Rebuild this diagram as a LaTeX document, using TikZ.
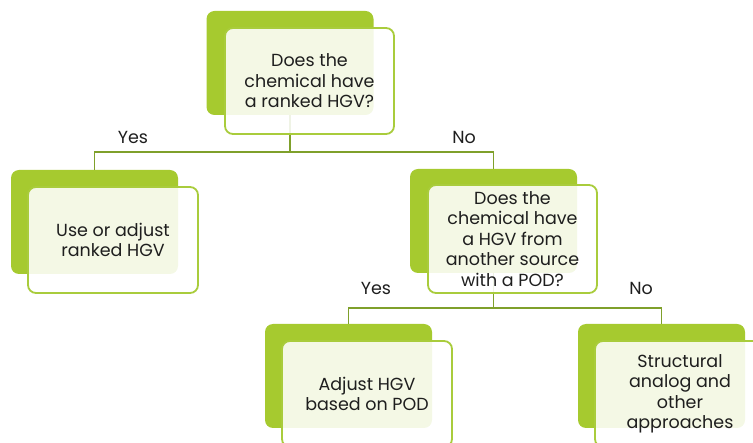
\documentclass[tikz,border=0pt]{standalone}
\usepackage{fontspec}
\setmainfont{Poppins}
\definecolor{backgreen}{HTML}{A6CA2F}
\definecolor{edgegreen}{HTML}{A9CC3C}
\definecolor{linegreen}{HTML}{7FA02B}
\definecolor{txt}{HTML}{1E1E1E}
\begin{document}
\begin{tikzpicture}[x=1pt,y=-1pt,
  backbox/.style={fill=backgreen, rounded corners=8pt, minimum width=167pt, minimum height=104pt, inner sep=0pt},
  frontbox/.style={draw=edgegreen, line width=1.8pt, fill=white, fill opacity=0.88, text opacity=1,
    rounded corners=8pt, minimum width=169pt, minimum height=106pt, inner sep=0pt, align=center,
    text=txt, font=\fontsize{17.5}{20.5}\selectfont},
  conn/.style={draw=linegreen, line width=1.8pt},
  lbl/.style={text=txt, font=\fontsize{17.5}{20.5}\selectfont, inner sep=0pt}]
\clip (0,0) rectangle (753,443);
% back boxes
\node[backbox] (b1) at (290,63) {};
\node[backbox] (b2) at (94.5,222) {};
\node[backbox] (b3) at (493.5,221) {};
\node[backbox] (b4) at (348.5,376) {};
\node[backbox] (b5) at (661.5,376) {};
% connectors
\coordinate (j1) at (290,152);
\coordinate (j2) at (493.5,308);
\draw[conn] (b1.south) -- (j1) -| (b2.north);
\draw[conn] (j1) -| (b3.north);
\draw[conn] (b3.south) -- (j2) -| (b4.north);
\draw[conn] (j2) -| (b5.north);
% front boxes
\node[frontbox] (f1) at (309.5,81) {Does the\\chemical have\\a ranked HGV?};
\node[frontbox, minimum width=170pt] (f2) at (113,240) {Use or adjust\\ranked HGV};
\node[frontbox, minimum height=108pt] (f3) at (512.5,239) {Does the\\chemical have\\a HGV from\\another source\\with a POD?};
\node[frontbox, minimum width=170pt] (f4) at (367,394) {Adjust HGV\\based on POD};
\node[frontbox, minimum width=170pt] (f5) at (680,394) {Structural\\analog and\\other\\approaches};
% labels
\node[lbl] (y1) at (133,137) {Yes};
\node[lbl] (n1) at (464,137) {No};
\node[lbl] (y2) at (376,288) {Yes};
\node[lbl] (n2) at (641,288) {No};
\end{tikzpicture}
\end{document}
